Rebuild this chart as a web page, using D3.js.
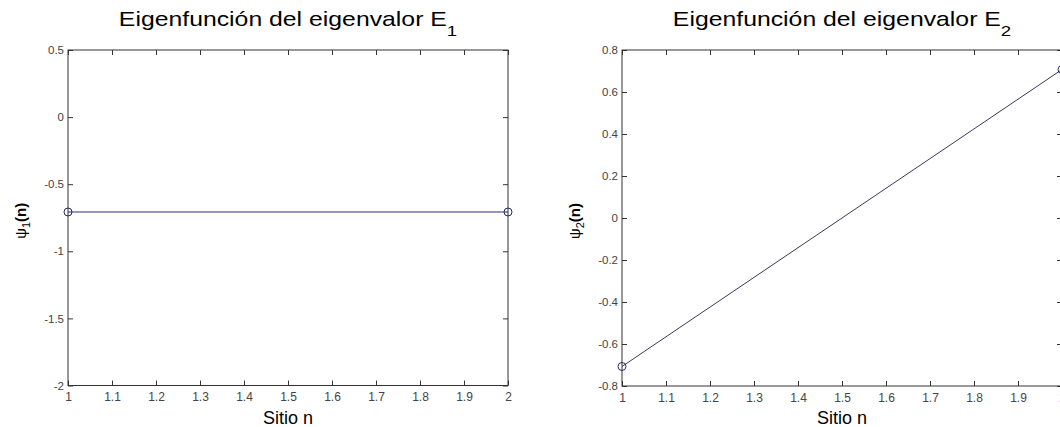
<!DOCTYPE html>
<html>
<head>
<meta charset="utf-8">
<script src="https://cdnjs.cloudflare.com/ajax/libs/d3/7.8.5/d3.min.js"></script>
<style>
  body { margin: 0; background: #fff; }
  svg { display: block; font-family: 'Liberation Sans', Arial, sans-serif; }
  .tick text { fill: #444; }
</style>
</head>
<body>
<svg id="chart" width="1060" height="427"></svg>
<script>
// data
const sites = [1, 2];
const psi1 = [-0.7071, -0.7071];
const psi2 = [-0.7071, 0.7071];

const xTicks = [1, 1.1, 1.2, 1.3, 1.4, 1.5, 1.6, 1.7, 1.8, 1.9, 2];
const yTicks1 = [0.5, 0, -0.5, -1, -1.5, -2];
const yTicks2 = [0.8, 0.6, 0.4, 0.2, 0, -0.2, -0.4, -0.6, -0.8];

const panels = [
  { values: psi1, yDomain: [-2, 0.5], yTicks: yTicks1, sub: '1', left: 68, right: 508, top: 50, bottom: 385.5, lineColor: '#2e2e6e' },
  { values: psi2, yDomain: [-0.8, 0.8], yTicks: yTicks2, sub: '2', left: 622, right: 1062, top: 50, bottom: 386, lineColor: '#3a3a58' }
];

const svg = d3.select('#chart');

function fmt(v) {
  return String(Math.round(v * 10) / 10);
}

panels.forEach(p => {
  const x = d3.scaleLinear().domain([1, 2]).range([p.left, p.right]);
  const y = d3.scaleLinear().domain(p.yDomain).range([p.bottom, p.top]);
  const g = svg.append('g');

  // box frame
  g.append('rect')
    .attr('x', p.left).attr('y', p.top)
    .attr('width', p.right - p.left).attr('height', p.bottom - p.top)
    .attr('fill', 'none').attr('stroke', '#333').attr('stroke-width', 1);

  const bottomAxis = g.append('g')
    .attr('transform', `translate(0,${p.bottom})`)
    .call(d3.axisBottom(x).tickValues(xTicks).tickFormat(fmt)
      .tickSizeInner(-5).tickSizeOuter(0).tickPadding(7));
  bottomAxis.selectAll('text').style('font-size', '12px');

  g.append('g')
    .attr('transform', `translate(0,${p.top})`)
    .call(d3.axisTop(x).tickValues(xTicks).tickFormat('')
      .tickSizeInner(-5).tickSizeOuter(0));

  const leftAxis = g.append('g')
    .attr('transform', `translate(${p.left},0)`)
    .call(d3.axisLeft(y).tickValues(p.yTicks).tickFormat(fmt)
      .tickSizeInner(-5).tickSizeOuter(0).tickPadding(4));
  leftAxis.selectAll('text').style('font-size', '11.5px');

  g.append('g')
    .attr('transform', `translate(${p.right},0)`)
    .call(d3.axisRight(y).tickValues(p.yTicks).tickFormat('')
      .tickSizeInner(-5).tickSizeOuter(0));

  g.selectAll('.domain').remove();
  g.selectAll('.tick line').attr('stroke', '#333');

  // series
  const pts = sites.map((s, i) => [s, p.values[i]]);
  g.append('path')
    .datum(pts)
    .attr('fill', 'none')
    .attr('stroke', p.lineColor)
    .attr('stroke-width', 1)
    .attr('d', d3.line().x(d => x(d[0])).y(d => y(d[1])));

  g.selectAll('circle.mk')
    .data(pts)
    .enter()
    .append('circle')
    .attr('class', 'mk')
    .attr('cx', d => x(d[0]))
    .attr('cy', d => y(d[1]))
    .attr('r', 4)
    .attr('fill', 'none')
    .attr('stroke', '#2a2a6a')
    .attr('stroke-width', 1);

  // title
  const cx = (p.left + p.right) / 2;
  const title = g.append('text')
    .attr('transform', `translate(${cx},26) scale(1.24,1)`)
    .attr('text-anchor', 'middle')
    .style('font-size', '20px')
    .attr('fill', '#000');
  title.append('tspan').text('Eigenfunción del eigenvalor E');
  title.append('tspan').attr('dy', 10).style('font-size', '15px').text(p.sub);

  // x label
  g.append('text')
    .attr('x', cx).attr('y', 424)
    .attr('text-anchor', 'middle')
    .style('font-size', '18px')
    .attr('fill', '#000')
    .text('Sitio n');

  // y label
  const cy = (p.top + p.bottom) / 2 + 3;
  const yl = g.append('text')
    .attr('transform', `translate(${p.left - 42},${cy}) rotate(-90)`)
    .attr('text-anchor', 'middle')
    .style('font-size', '15px')
    .attr('fill', '#000');
  yl.append('tspan').text('ψ');
  yl.append('tspan').attr('dy', 4).style('font-size', '11px').text(p.sub);
  yl.append('tspan').attr('dy', -4).style('font-weight', 'bold').text('(n)');
});
</script>
</body>
</html>
